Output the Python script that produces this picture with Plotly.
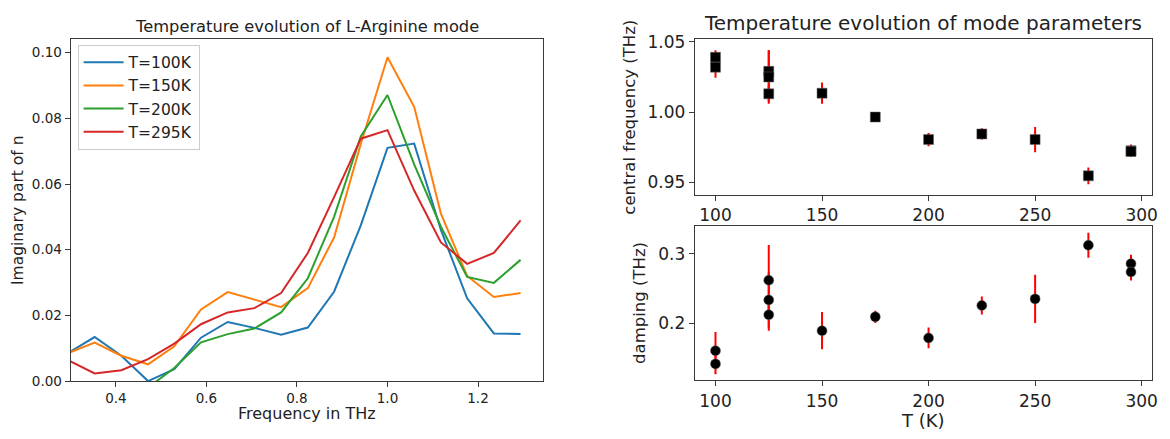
import plotly.graph_objects as go

# ---------------- data: left panel ----------------
freq_thz = [0.294, 0.353, 0.412, 0.471, 0.529, 0.588, 0.647, 0.706, 0.765,
            0.824, 0.882, 0.941, 1.000, 1.059, 1.118, 1.176, 1.235, 1.294]
im_n_100K = [0.0085, 0.0134, 0.0077, 0.0000, 0.0036, 0.0132, 0.0180, 0.0162, 0.0141,
             0.0163, 0.0272, 0.0474, 0.0710, 0.0723, 0.0460, 0.0252, 0.0145, 0.0143]
im_n_150K = [0.0085, 0.0117, 0.0077, 0.0051, 0.0106, 0.0218, 0.0271, 0.0247, 0.0225,
             0.0283, 0.0437, 0.0722, 0.0986, 0.0835, 0.0510, 0.0320, 0.0256, 0.0268]
im_n_200K = [-0.0060, -0.0070, -0.0050, -0.0020, 0.0040, 0.0118, 0.0143, 0.0160, 0.0209,
             0.0313, 0.0500, 0.0745, 0.0871, 0.0660, 0.0470, 0.0317, 0.0299, 0.0369]
im_n_295K = [0.0064, 0.0023, 0.0033, 0.0067, 0.0114, 0.0173, 0.0209, 0.0222, 0.0268,
             0.0390, 0.0560, 0.0738, 0.0764, 0.0580, 0.0422, 0.0357, 0.0390, 0.0489]
series_names = ["T=100K", "T=150K", "T=200K", "T=295K"]
series_colors = ["#1f77b4", "#ff7f0e", "#2ca02c", "#d62728"]

# ---------------- data: right panels ----------------
temps_K = [100, 100, 125, 125, 125, 150, 175, 200, 225, 250, 275, 295, 295]
central_freq = [1.039, 1.032, 1.029, 1.025, 1.013, 1.0135, 0.9965, 0.9805, 0.9845,
                0.9805, 0.9547, 0.9725, 0.9720]
central_freq_err = [0.005, 0.0075, 0.015, 0.019, 0.006, 0.0075, 0.003, 0.0047, 0.004,
                    0.009, 0.006, 0.0045, 0.004]
damping = [0.160, 0.141, 0.262, 0.2335, 0.212, 0.189, 0.209, 0.1785, 0.2255,
           0.235, 0.3126, 0.286, 0.274]
damping_err = [0.027, 0.015, 0.051, 0.040, 0.023, 0.027, 0.009, 0.015, 0.013,
               0.035, 0.018, 0.013, 0.0125]

W, H = 1170, 439
FONT = "DejaVu Sans"
TXT = "#222222"
LINE = "#3a3a3a"

fig = go.Figure()

for ys, name, col in zip([im_n_100K, im_n_150K, im_n_200K, im_n_295K], series_names, series_colors):
    fig.add_trace(go.Scatter(x=freq_thz, y=ys, mode="lines", name=name,
                             line=dict(color=col, width=2), xaxis="x", yaxis="y"))

fig.add_trace(go.Scatter(x=temps_K, y=central_freq, mode="markers", showlegend=False,
                         marker=dict(symbol="square", size=10, color="black",
                                     line=dict(color="#666666", width=0.5)),
                         error_y=dict(type="data", array=central_freq_err, color="red",
                                      thickness=2, width=0),
                         xaxis="x2", yaxis="y2"))
fig.add_trace(go.Scatter(x=temps_K, y=damping, mode="markers", showlegend=False,
                         marker=dict(symbol="circle", size=10, color="black",
                                     line=dict(color="#666666", width=0.5)),
                         error_y=dict(type="data", array=damping_err, color="red",
                                      thickness=2, width=0),
                         xaxis="x3", yaxis="y3"))


def px_x(p):
    return p / W


def px_y(p):
    return 1 - p / H


common = dict(showline=True, mirror=True, linecolor=LINE, linewidth=1, ticks="outside",
              ticklen=5, tickwidth=1, tickcolor=LINE, showgrid=False, zeroline=False)

L_left, L_right, L_top, L_bot = 71, 546, 33.3, 387.3
R_left, R_right = 698.3, 1157.7
RT_top, RT_bot = 33.3, 194.3
RB_top, RB_bot = 226.7, 386.7

small = dict(family=FONT, size=13.5, color=TXT)
big = dict(family=FONT, size=17, color=TXT)

fig.update_layout(
    width=W, height=H, margin=dict(l=0, r=0, t=0, b=0),
    paper_bgcolor="white", plot_bgcolor="white",
    font=dict(family=FONT, color=TXT),
    xaxis=dict(domain=[px_x(L_left), px_x(L_right)], range=[0.3, 1.344],
               tickvals=[0.4, 0.6, 0.8, 1.0, 1.2], tickformat=".1f", tickfont=small,
               anchor="y", **common),
    yaxis=dict(domain=[px_y(L_bot), px_y(L_top)], range=[0, 0.1041],
               tickvals=[0, 0.02, 0.04, 0.06, 0.08, 0.10], tickformat=".2f", tickfont=small,
               anchor="x", **common),
    xaxis2=dict(domain=[px_x(R_left), px_x(R_right)], range=[90.25, 304.75],
                tickvals=[100, 150, 200, 250, 300], tickfont=big, anchor="y2", **common),
    yaxis2=dict(domain=[px_y(RT_bot), px_y(RT_top)], range=[0.9413, 1.0519],
                tickvals=[0.95, 1.00, 1.05], tickformat=".2f", tickfont=big,
                anchor="x2", **common),
    xaxis3=dict(domain=[px_x(R_left), px_x(R_right)], range=[90.25, 304.75],
                tickvals=[100, 150, 200, 250, 300], tickfont=big, anchor="y3", **common),
    yaxis3=dict(domain=[px_y(RB_bot), px_y(RB_top)], range=[0.117, 0.3405],
                tickvals=[0.2, 0.3], tickformat=".1f", tickfont=big,
                anchor="x3", **common),
    legend=dict(x=px_x(78), y=px_y(39), xanchor="left", yanchor="top",
                bgcolor="rgba(255,255,255,0.8)", bordercolor="#cccccc", borderwidth=1,
                font=dict(family=FONT, size=15.5, color=TXT), itemwidth=40,
                tracegroupgap=0),
    showlegend=True,
)

ann = [
    dict(text="Temperature evolution of L-Arginine mode", x=px_x((L_left + L_right) / 2),
         y=px_y(20), font=dict(family=FONT, size=16.3, color=TXT)),
    dict(text="Frequency in THz", x=px_x((L_left + L_right) / 2), y=px_y(421),
         font=dict(family=FONT, size=16, color=TXT)),
    dict(text="Imaginary part of n", x=px_x(18), y=px_y((L_top + L_bot) / 2), textangle=-90,
         font=dict(family=FONT, size=15.5, color=TXT)),
    dict(text="Temperature evolution of mode parameters", x=px_x((R_left + R_right) / 2),
         y=px_y(17), font=dict(family=FONT, size=20, color=TXT)),
    dict(text="central frequency (THz)", x=px_x(633), y=px_y((RT_top + RT_bot) / 2),
         textangle=-90, font=dict(family=FONT, size=16.5, color=TXT)),
    dict(text="damping (THz)", x=px_x(643), y=px_y((RB_top + RB_bot) / 2), textangle=-90,
         font=dict(family=FONT, size=16.5, color=TXT)),
    dict(text="T (K)", x=px_x((R_left + R_right) / 2), y=px_y(428),
         font=dict(family=FONT, size=18, color=TXT)),
]
for a in ann:
    a.update(xref="paper", yref="paper", showarrow=False, xanchor="center", yanchor="middle")
fig.update_layout(annotations=ann)

fig.write_html("out.html", config={"displayModeBar": False},
               post_script="document.body.style.margin='0';document.body.style.overflow='hidden';")
